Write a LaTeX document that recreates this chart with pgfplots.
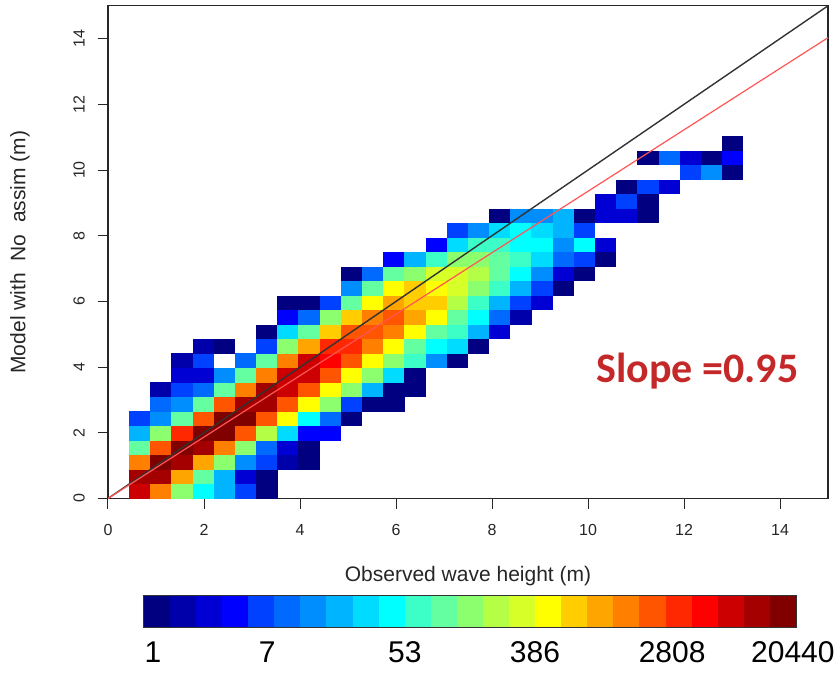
\documentclass[border=0pt]{standalone}
\usepackage{pgfplots}
\usepackage{pgfplotstable}
\pgfplotsset{compat=1.18}
\usepackage{fontspec}
\setmainfont{Liberation Sans}
\newfontfamily\carlito{Carlito}

\pgfdeclareplotmark{hcell}{\pgfpathrectangle{\pgfpoint{-5.34pt}{-3.67pt}}{\pgfpoint{10.68pt}{7.34pt}}\pgfusepathqfill}
\pgfdeclareplotmark{cbcell}{\pgfpathrectangle{\pgfpoint{-6.57pt}{-7.75pt}}{\pgfpoint{13.14pt}{15.5pt}}\pgfusepathqfill}

\pgfplotsset{colormap={jet25}{rgb255=(0,0,128) rgb255=(0,0,170) rgb255=(0,0,213) rgb255=(0,0,255) rgb255=(0,64,255) rgb255=(0,106,255) rgb255=(0,142,255) rgb255=(0,180,255) rgb255=(0,220,255) rgb255=(0,255,255) rgb255=(60,255,200) rgb255=(100,255,160) rgb255=(140,255,110) rgb255=(180,255,70) rgb255=(215,255,40) rgb255=(255,255,0) rgb255=(255,205,0) rgb255=(255,165,0) rgb255=(255,128,0) rgb255=(255,85,0) rgb255=(255,40,0) rgb255=(255,0,0) rgb255=(204,0,0) rgb255=(165,0,0) rgb255=(128,0,0)}}

\definecolor{slopered}{RGB}{196,40,40}
\definecolor{fitred}{RGB}{255,85,85}

% i = column bin, j = row bin (bin width 15/34 m), c = colour class (0..24)
\pgfplotstableread{
i j c
1 0 22
1 1 23
1 2 18
1 3 11
1 4 7
1 5 4
2 0 18
2 1 23
2 2 24
2 3 19
2 4 12
2 5 6
2 6 5
2 7 1
3 0 12
3 1 17
3 2 23
3 3 24
3 4 20
3 5 11
3 6 6
3 7 4
3 8 2
3 9 1
4 0 9
4 1 11
4 2 17
4 3 23
4 4 24
4 5 19
4 6 11
4 7 5
4 8 2
4 9 4
4 10 1
5 0 7
5 1 7
5 2 12
5 3 18
5 4 24
5 5 24
5 6 19
5 7 11
5 8 6
5 10 0
6 0 4
6 1 2
6 2 6
6 3 12
6 4 19
6 5 24
6 6 23
6 7 18
6 8 11
6 9 5
7 0 0
7 1 0
7 2 4
7 3 5
7 4 13
7 5 19
7 6 23
7 7 23
7 8 18
7 9 11
7 10 4
7 11 0
8 2 1
8 3 2
8 4 8
8 5 15
8 6 19
8 7 22
8 8 22
8 9 18
8 10 12
8 11 8
8 12 3
8 13 0
9 2 0
9 3 0
9 4 3
9 5 9
9 6 15
9 7 19
9 8 22
9 9 22
9 10 17
9 11 11
9 12 5
9 13 0
10 4 3
10 5 5
10 6 12
10 7 15
10 8 19
10 9 21
10 10 20
10 11 16
10 12 12
10 13 4
11 5 0
11 6 4
11 7 12
11 8 15
11 9 19
11 10 20
11 11 19
11 12 16
11 13 11
11 14 6
11 15 0
12 6 0
12 7 7
12 8 12
12 9 15
12 10 18
12 11 19
12 12 18
12 13 15
12 14 11
12 15 5
13 6 0
13 7 0
13 8 8
13 9 12
13 10 15
13 11 18
13 12 19
13 13 17
13 14 15
13 15 11
13 16 3
14 7 0
14 8 0
14 9 10
14 10 11
14 11 15
14 12 17
14 13 16
14 14 16
14 15 12
14 16 7
15 9 6
15 10 9
15 11 11
15 12 15
15 13 16
15 14 15
15 15 14
15 16 10
15 17 3
16 9 0
16 10 8
16 11 10
16 12 11
16 13 13
16 14 14
16 15 14
16 16 12
16 17 8
16 18 4
17 10 0
17 11 7
17 12 9
17 13 10
17 14 12
17 15 13
17 16 12
17 17 10
17 18 6
18 11 2
18 12 5
18 13 7
18 14 10
18 15 11
18 16 11
18 17 10
18 18 8
18 19 0
19 12 1
19 13 4
19 14 7
19 15 9
19 16 10
19 17 9
19 18 9
19 19 6
20 13 2
20 14 4
20 15 6
20 16 8
20 17 9
20 18 8
20 19 6
21 14 0
21 15 2
21 16 5
21 17 6
21 18 7
21 19 7
22 15 0
22 16 4
22 17 9
22 18 4
22 19 0
23 16 0
23 17 2
23 19 2
23 20 2
24 19 2
24 20 4
24 21 0
25 19 0
25 20 0
25 21 4
25 23 0
26 21 2
26 23 5
27 22 4
27 23 2
28 22 6
28 23 0
29 22 0
29 23 3
29 24 0
}\cells

% colour bar: centre of each class box (x), bar mid-height (y), class k
\pgfplotstableread{
x y k
0.5 0.5 0
1.5 0.5 1
2.5 0.5 2
3.5 0.5 3
4.5 0.5 4
5.5 0.5 5
6.5 0.5 6
7.5 0.5 7
8.5 0.5 8
9.5 0.5 9
10.5 0.5 10
11.5 0.5 11
12.5 0.5 12
13.5 0.5 13
14.5 0.5 14
15.5 0.5 15
16.5 0.5 16
17.5 0.5 17
18.5 0.5 18
19.5 0.5 19
20.5 0.5 20
21.5 0.5 21
22.5 0.5 22
23.5 0.5 23
24.5 0.5 24
}\cbar

\begin{document}
\begin{tikzpicture}
\path[use as bounding box] (-54pt,-87.25pt) rectangle (365pt,249.25pt);
\begin{axis}[
  at={(0pt,0pt)}, anchor=south west,
  scale only axis, width=360pt, height=246.35pt,
  xmin=0, xmax=15, ymin=0, ymax=15,
  xtick={0,2,4,6,8,10,12,14}, ytick={0,2,4,6,8,10,12,14},
  tick align=outside, xtick pos=bottom, ytick pos=left,
  major tick length=5pt,
  tick style={black!85, line width=0.5pt},
  axis line style={black!85, line width=0.6pt},
  /pgf/number format/assume math mode=true,
  ticklabel style={font=\fontsize{8}{10}\selectfont, text=black!85},
  xticklabel style={anchor=center, yshift=-10.75pt},
  yticklabel style={anchor=center, xshift=-9.5pt, rotate=90},
  xlabel={Observed wave height (m)},
  ylabel={Model with\ \ No\ \ assim (m)},
  label style={font=\fontsize{10.5}{12}\selectfont, text=black!85},
  xlabel style={at={(axis description cs:0.5,-0.1573)}, anchor=center},
  ylabel style={at={(axis description cs:-0.1222,0.5)}, anchor=center},
  colormap name=jet25, point meta min=0, point meta max=24,
]
\addplot[scatter, only marks, mark=hcell, point meta=explicit,
  scatter/use mapped color={draw=mapped color, fill=mapped color}]
  table[x expr={(\thisrow{i}+0.5)*0.441176}, y expr={(\thisrow{j}+0.5)*0.441176}, meta=c] {\cells};
\node[anchor=base west, inner sep=0pt, text=slopered, font=\carlito\bfseries\fontsize{21}{24}\selectfont] at (axis cs:10.17,3.52) {Slope =0.95};
\end{axis}

% overlay axis: 1:1 line and fitted line drawn above the cells
\begin{axis}[
  at={(0pt,0pt)}, anchor=south west,
  scale only axis, width=360pt, height=246.35pt,
  xmin=0, xmax=15, ymin=0, ymax=15,
  hide axis,
]
\addplot[black!80, line width=0.7pt] coordinates {(0,0) (15,15)};
\addplot[fitred, line width=0.6pt] coordinates {(0,0) (15,14.03)};
\end{axis}

\begin{axis}[
  at={(18pt,-64.25pt)}, anchor=south west,
  scale only axis, width=326pt, height=15.5pt,
  xmin=0, xmax=25, ymin=0, ymax=1,
  ytick=\empty,
  xtick={0.345,4.72,10,14.99,20.25,24.88},
  xticklabels={1,7,53,386,2808,20440},
  major tick length=0pt,
  xticklabel style={font=\fontsize{15}{18}\selectfont, anchor=center, yshift=-12.5pt},
  axis line style={black!80, line width=0.7pt},
  axis on top,
  colormap name=jet25, point meta min=0, point meta max=24,
]
\addplot[scatter, only marks, mark=cbcell, point meta=explicit,
  scatter/use mapped color={draw=mapped color, fill=mapped color}]
  table[x=x, y=y, meta=k] {\cbar};
\end{axis}
\end{tikzpicture}
\end{document}
